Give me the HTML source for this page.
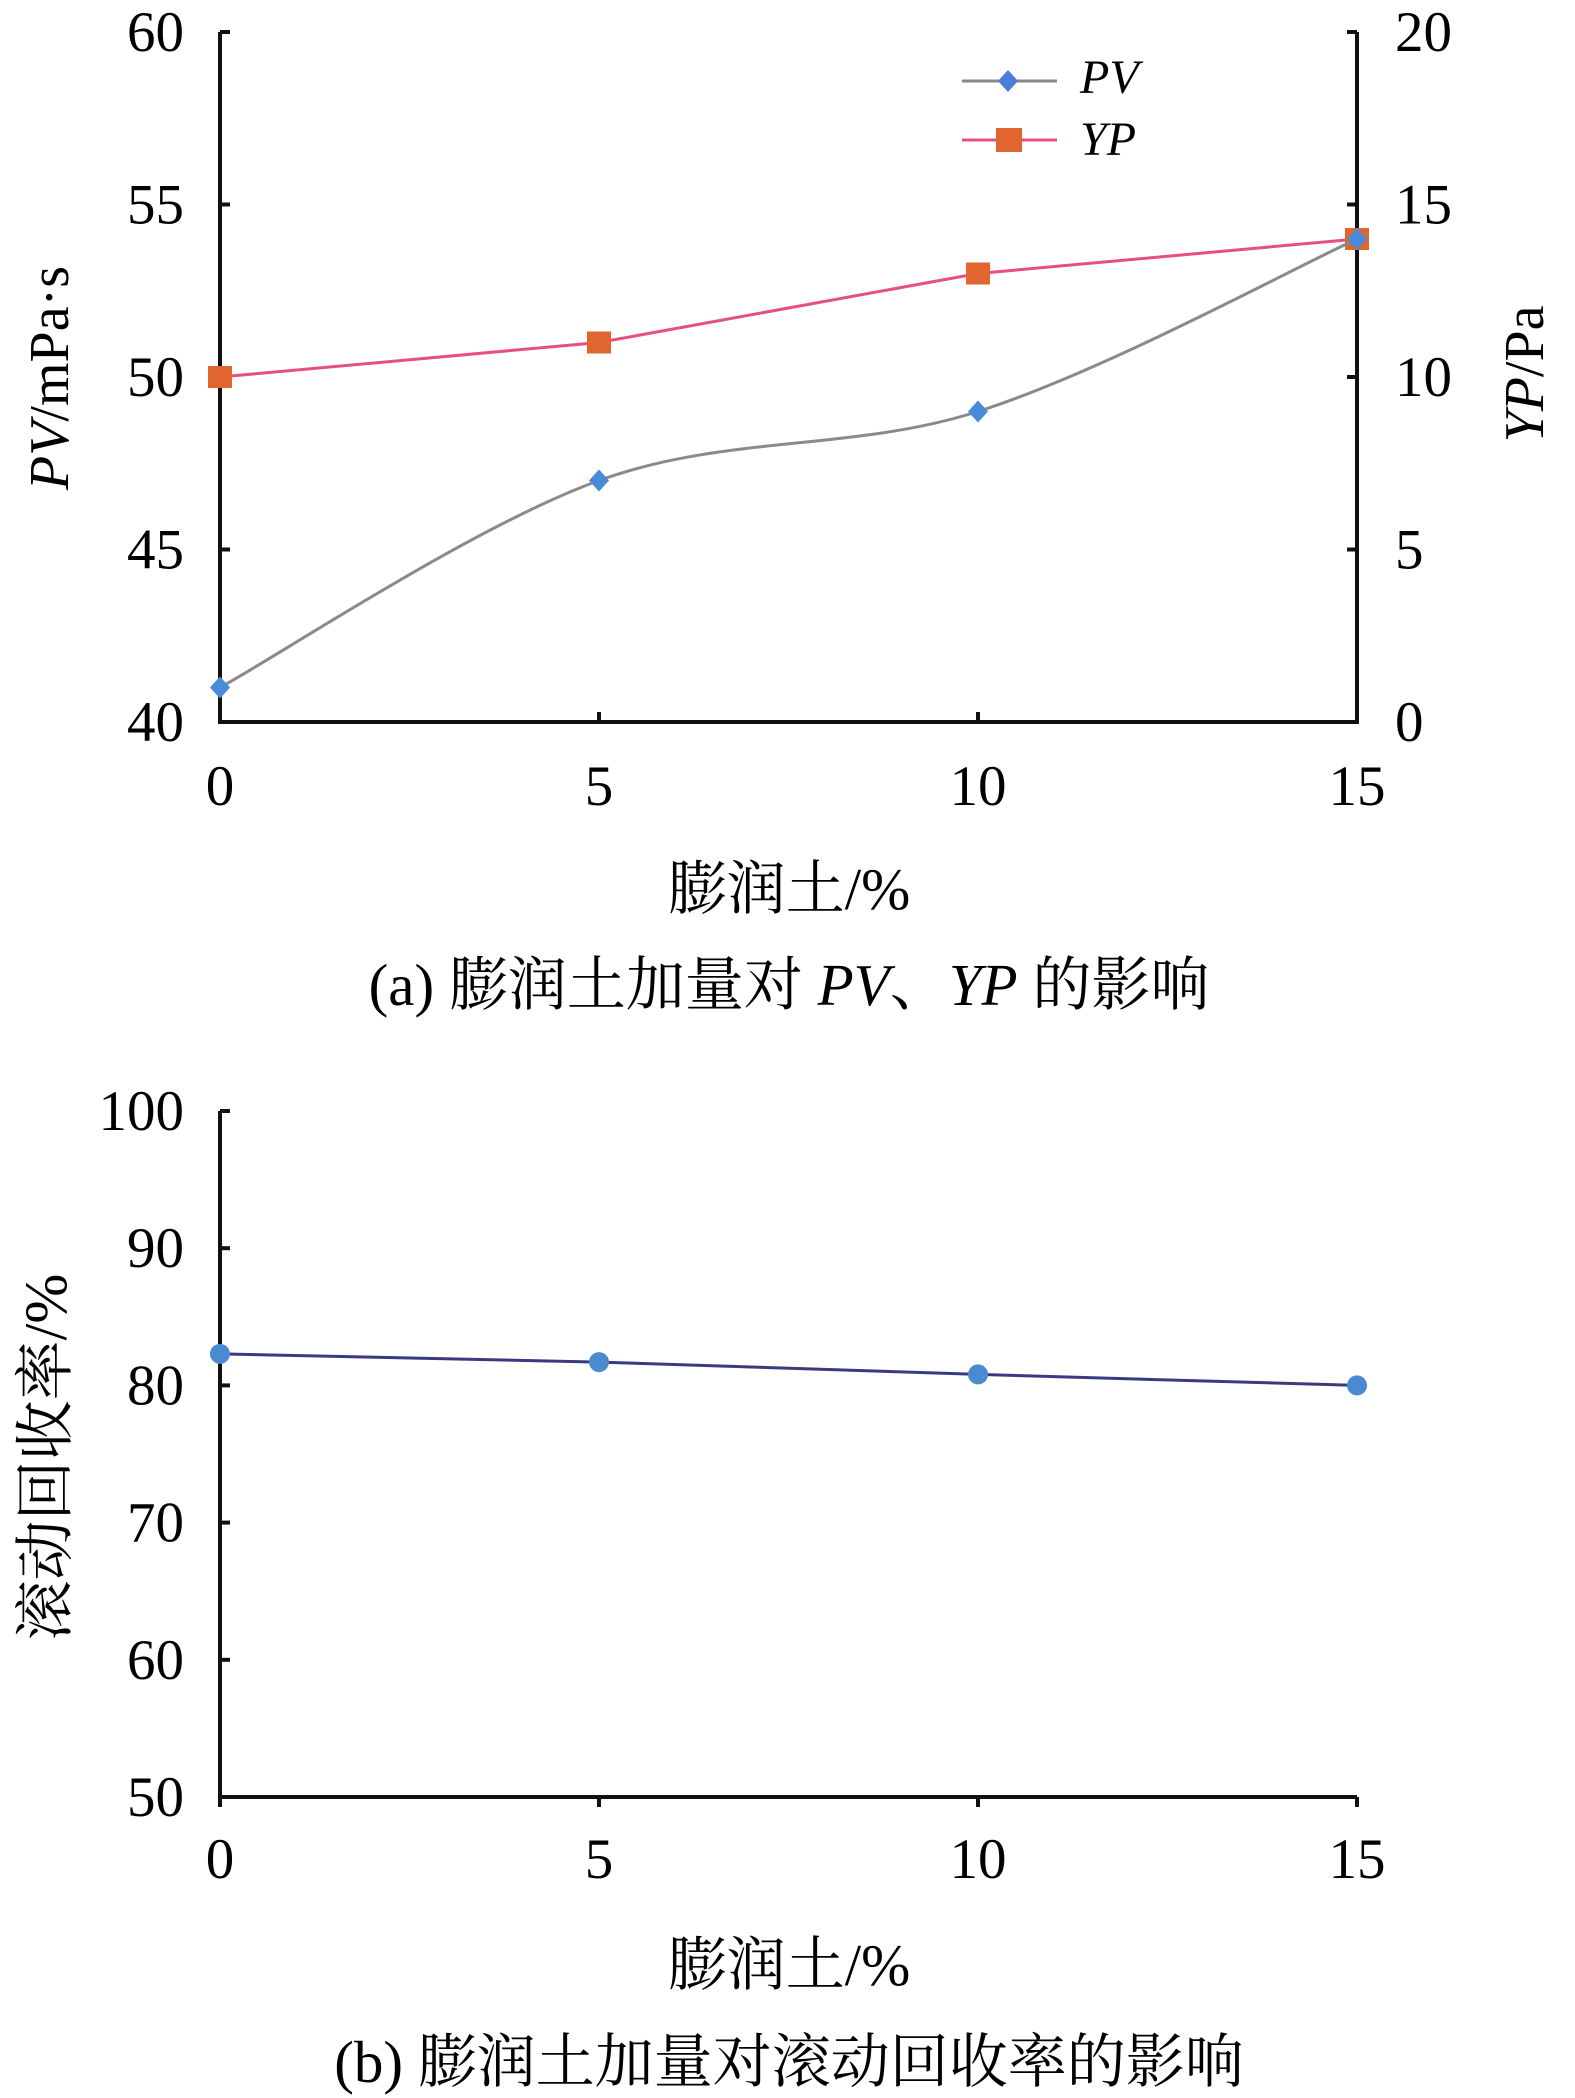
<!DOCTYPE html>
<html><head><meta charset="utf-8"><style>
html,body{margin:0;padding:0;background:#fff;}
svg{display:block;font-family:"Liberation Serif","Noto Serif CJK SC",serif;}
svg text{font-family:"Liberation Serif","Noto Serif CJK SC",serif;}
</style></head><body>
<svg id="fig" width="1575" height="2098" viewBox="0 0 1575 2098" xmlns="http://www.w3.org/2000/svg">
<rect width="1575" height="2098" fill="#fff"/>
<g id="chartA"></g>
<g id="chartB"></g>
<text x="789" y="909" font-size="59" text-anchor="middle">膨润土/%</text>
<text x="789" y="1005" font-size="59" text-anchor="middle">(a) 膨润土加量对 <tspan font-style="italic">PV</tspan>、<tspan font-style="italic">YP</tspan> 的影响</text>
<text transform="translate(68,378) rotate(-90)" font-size="56" text-anchor="middle"><tspan font-style="italic">PV</tspan>/mPa·s</text>
<text transform="translate(1543,374) rotate(-90)" font-size="56" text-anchor="middle"><tspan font-style="italic">YP</tspan>/Pa</text>
<g>
<line x1="962" y1="81" x2="1057" y2="81" stroke="#888" stroke-width="3"/>
<path d="M1008 70 L1018 81 L1008 92 L998 81 Z" fill="#4a7fd8"/>
<text x="1080" y="93" font-size="48" font-style="italic">PV</text>
<line x1="962" y1="140" x2="1057" y2="140" stroke="#e8507a" stroke-width="3"/>
<rect x="996" y="128" width="26" height="24" fill="#e0652f"/>
<text x="1080" y="155" font-size="48" font-style="italic">YP</text>
</g>
<text x="789" y="1985" font-size="59" text-anchor="middle">膨润土/%</text>
<text x="789" y="2082" font-size="59" text-anchor="middle">(b) 膨润土加量对滚动回收率的影响</text>
<text transform="translate(66,1457) rotate(-90)" font-size="60" text-anchor="middle">滚动回收率/%</text>
</svg>
<script>
const xCats = [0, 5, 10, 15];
const pvValues = [41, 47, 49, 54];
const ypValues = [10, 11, 13, 14];
const yLeftTicksA = [40, 45, 50, 55, 60];
const yRightTicksA = [0, 5, 10, 15, 20];
const recoveryValues = [82.3, 81.7, 80.8, 80.0];
const yTicksB = [50, 60, 70, 80, 90, 100];

const NS = "http://www.w3.org/2000/svg";
const X0 = 220, X1 = 1357;
function xs(v){ return X0 + (v - 0) / 15 * (X1 - X0); }
function yPV(v){ return 722 - (v - 40) / 20 * (722 - 32); }
function yYP(v){ return 722 - (v - 0) / 20 * (722 - 32); }
function yB(v){ return 1797 - (v - 50) / 50 * (1797 - 1111); }
function mk(tag, attrs, parent){ const e = document.createElementNS(NS, tag); for (const k in attrs) e.setAttribute(k, attrs[k]); parent.appendChild(e); return e; }
function smooth(pts){
  let d = "M" + pts[0][0] + " " + pts[0][1];
  for (let i = 0; i < pts.length - 1; i++){
    const p0 = pts[Math.max(0, i-1)], p1 = pts[i], p2 = pts[i+1], p3 = pts[Math.min(pts.length-1, i+2)];
    const t = 0.5/3;
    d += " C" + (p1[0] + (p2[0]-p0[0])*t) + " " + (p1[1] + (p2[1]-p0[1])*t) + " " + (p2[0] - (p3[0]-p1[0])*t) + " " + (p2[1] - (p3[1]-p1[1])*t) + " " + p2[0] + " " + p2[1];
  }
  return d;
}
const A = document.getElementById("chartA");
const B = document.getElementById("chartB");

let ax = mk("path", {d: "M" + X0 + " 32 L" + X0 + " 722 L" + X1 + " 722 L" + X1 + " 32", fill: "none", stroke: "#111", "stroke-width": 4}, A);


yLeftTicksA.forEach(v => {
  const y = yPV(v);
  const t = mk("line", {x1: X0, y1: y, x2: X0 + 10, y2: y, stroke: "#111", "stroke-width": 4}, A);
  
  
  const l = mk("text", {x: 184, y: y + 19, "font-size": 57, "text-anchor": "end"}, A);
  
  
  l.textContent = v;
});
yRightTicksA.forEach(v => {
  const y = yYP(v);
  const t = mk("line", {x1: X1 - 10, y1: y, x2: X1, y2: y, stroke: "#111", "stroke-width": 4}, A);
  
  
  const l = mk("text", {x: 1395, y: y + 19, "font-size": 57, "text-anchor": "start"}, A);
  
  
  l.textContent = v;
});
xCats.forEach(v => {
  const x = xs(v);
  const t = mk("line", {x1: x, y1: 712, x2: x, y2: 722, stroke: "#111", "stroke-width": 4}, A);
  
  
  const l = mk("text", {x: x, y: 805, "font-size": 57, "text-anchor": "middle"}, A);
  
  
  l.textContent = v;
});
const ypPts = xCats.map((c, i) => [xs(c), yYP(ypValues[i])]);
const ypLine = mk("polyline", {points: ypPts.map(p => p.join(",")).join(" "), fill: "none", stroke: "#e8507a", "stroke-width": 3}, A);


ypPts.forEach(p => {
  const r = mk("rect", {x: p[0] - 12, y: p[1] - 11, width: 24, height: 22, fill: "#e0652f"}, A);
  
  
});
const pvPts = xCats.map((c, i) => [xs(c), yPV(pvValues[i])]);
const pvLine = mk("path", {d: smooth(pvPts), fill: "none", stroke: "#8a8a8a", "stroke-width": 3}, A);


pvPts.forEach(p => {
  const m = mk("path", {d: "M" + p[0] + " " + (p[1]-11) + " L" + (p[0]+10) + " " + p[1] + " L" + p[0] + " " + (p[1]+11) + " L" + (p[0]-10) + " " + p[1] + " Z", fill: "#4a8ad8"}, A);
  
  
});

let bx = mk("path", {d: "M" + X0 + " 1111 L" + X0 + " 1797 L" + X1 + " 1797", fill: "none", stroke: "#111", "stroke-width": 4}, B);


yTicksB.forEach(v => {
  const y = yB(v);
  const t = mk("line", {x1: X0, y1: y, x2: X0 + 10, y2: y, stroke: "#111", "stroke-width": 4}, B);
  
  
  const l = mk("text", {x: 184, y: y + 19, "font-size": 57, "text-anchor": "end"}, B);
  
  
  l.textContent = v;
});
xCats.forEach(v => {
  const x = xs(v);
  const t = mk("line", {x1: x, y1: 1797, x2: x, y2: 1807, stroke: "#111", "stroke-width": 4}, B);
  
  
  const l = mk("text", {x: x, y: 1878, "font-size": 57, "text-anchor": "middle"}, B);
  
  
  l.textContent = v;
});
const recPts = xCats.map((c, i) => [xs(c), yB(recoveryValues[i])]);
const recLine = mk("polyline", {points: recPts.map(p => p.join(",")).join(" "), fill: "none", stroke: "#3a3a80", "stroke-width": 3}, B);


recPts.forEach(p => {
  const c = mk("ellipse", {cx: p[0], cy: p[1], rx: 10, ry: 10, fill: "#4a8ad0"}, B);
  
  
});
</script>
</body></html>
